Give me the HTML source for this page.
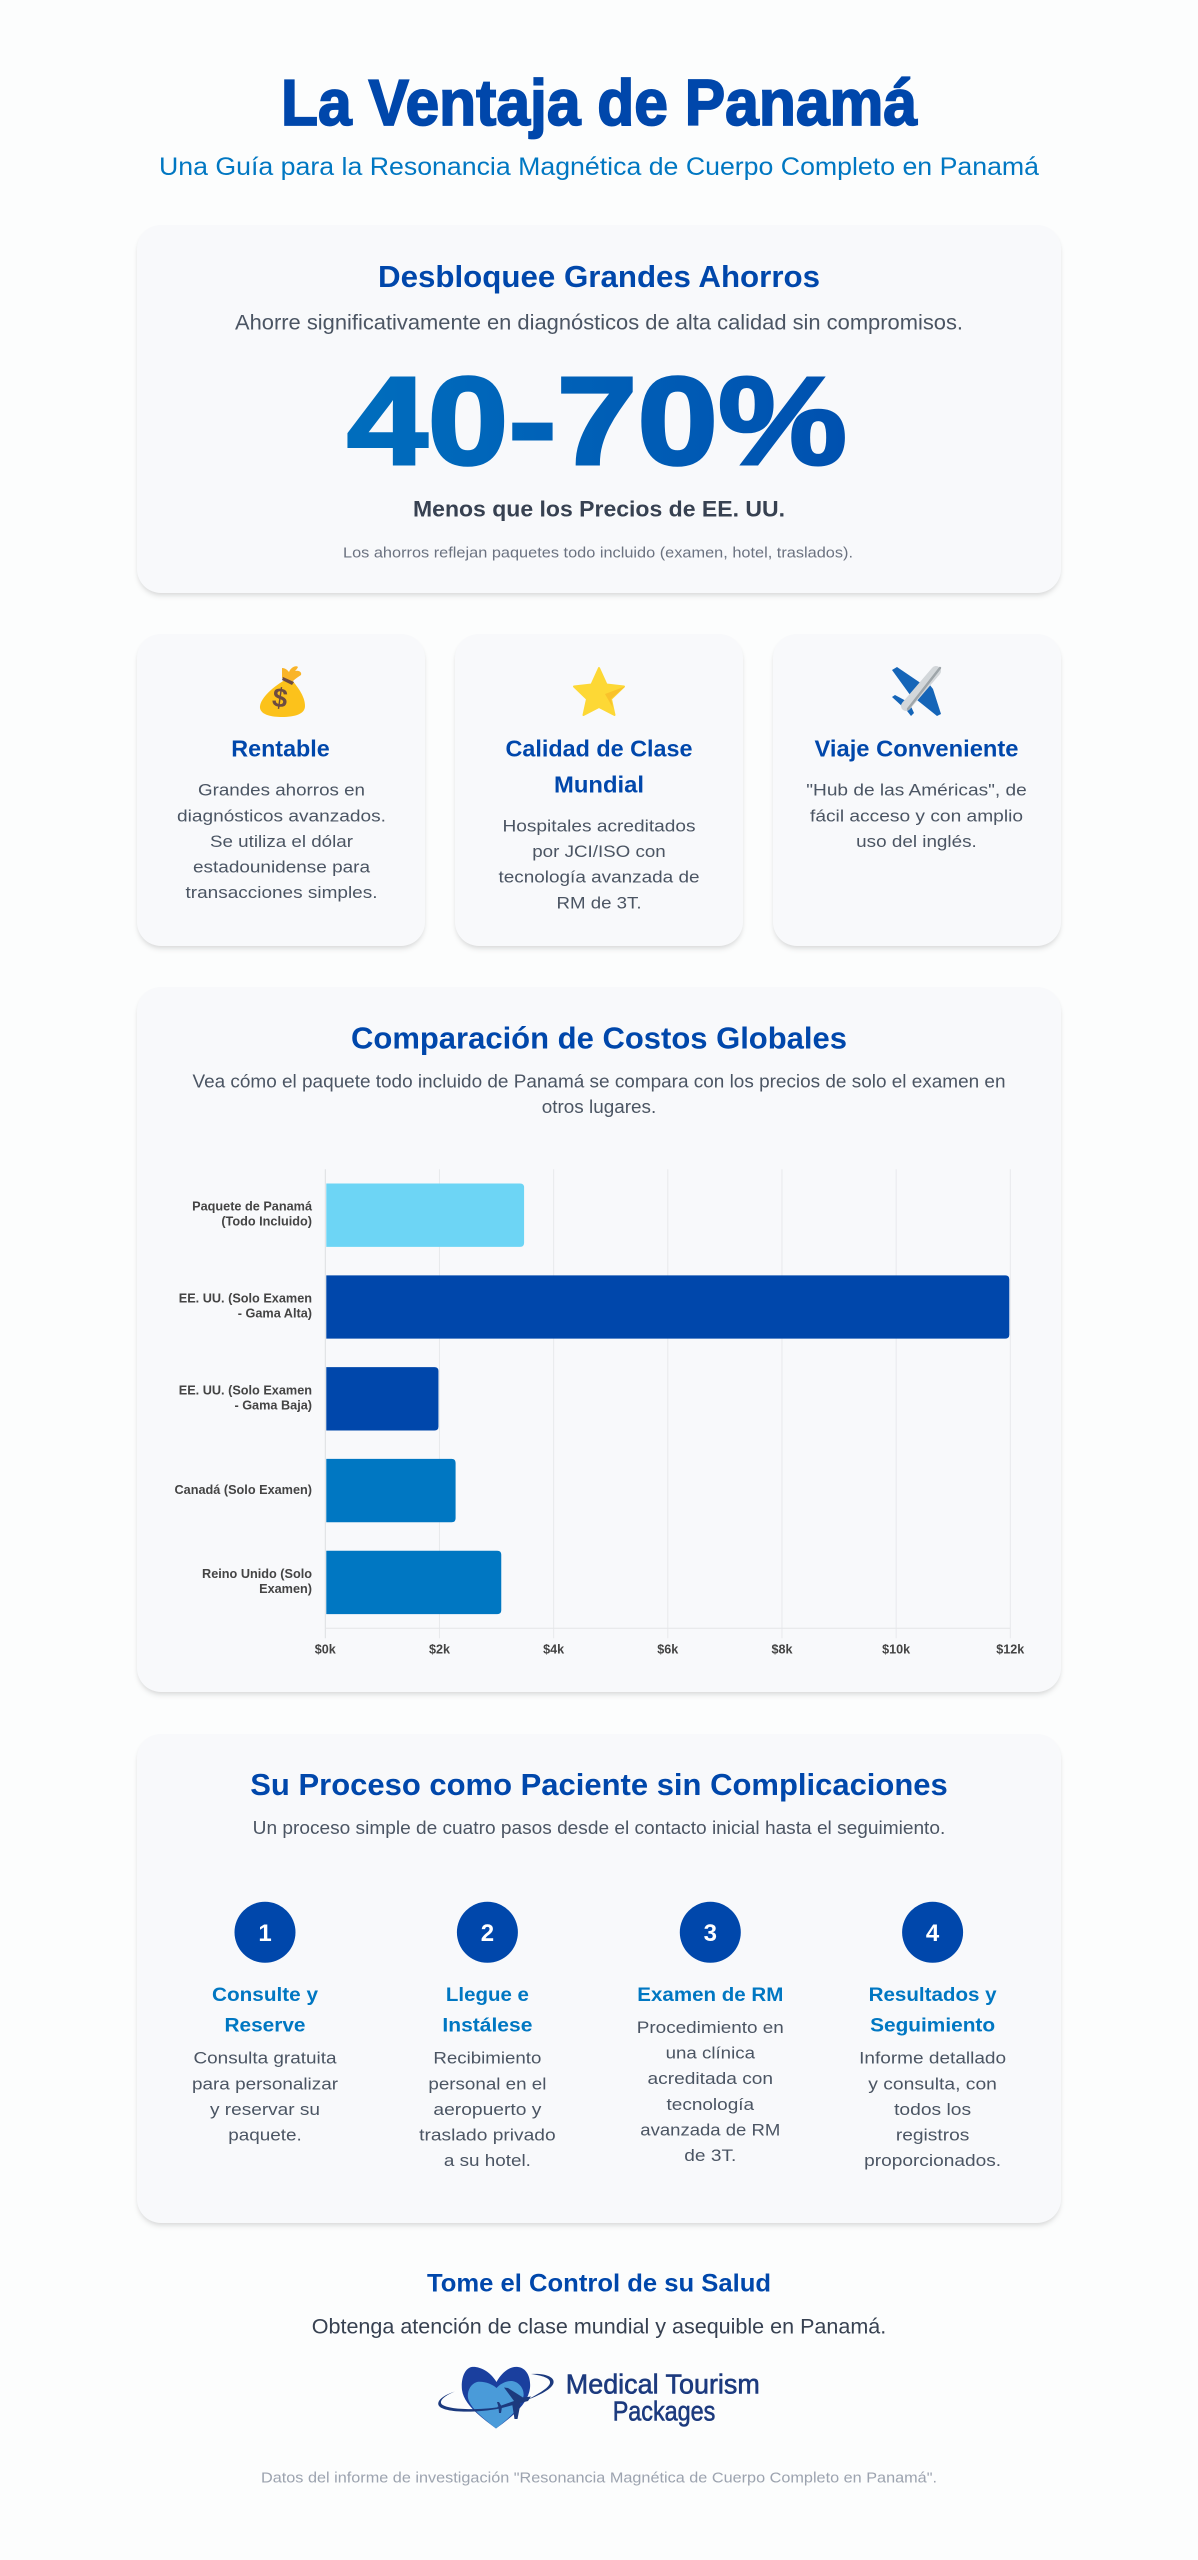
<!DOCTYPE html>
<html lang="es">
<head>
<meta charset="utf-8">
<title>La Ventaja de Panamá</title>
<style>
html,body{margin:0;padding:0;background:#fcfdfd;}
body{position:relative;width:1198px;height:2560px;overflow:hidden;font-family:"Liberation Sans",sans-serif;}
.card{position:absolute;background:#f8f9fb;border-radius:24px;box-shadow:0 4px 6px -1px rgba(0,0,0,.1),0 2px 4px -1px rgba(0,0,0,.06);}
svg#page{position:absolute;left:0;top:0;}
text{font-family:"Liberation Sans",sans-serif;text-anchor:middle;}
.main-title{font-size:65px;font-weight:700;fill:#0047ab;stroke:#0047ab;stroke-width:1.8px;}
.sub-title{font-size:25px;fill:#0077c2;}
.h2{font-size:31px;font-weight:700;fill:#0047ab;}
.lead{font-size:20.8px;fill:#4b5563;}
.lead2{font-size:18.2px;fill:#4b5563;}
.big{font-size:125px;font-weight:700;fill:url(#big-gradient);stroke:url(#big-gradient);stroke-width:3px;}
.strong{font-size:22.5px;font-weight:700;fill:#374151;}
.note{font-size:14.6px;fill:#6b7280;}
.h3{font-size:23px;font-weight:700;fill:#0047ab;}
.p{font-size:16.7px;fill:#4b5563;}
.h4{font-size:19.8px;font-weight:700;fill:#0077c2;}
.num{font-size:24px;font-weight:700;fill:#fff;}
.cta-h{font-size:24.6px;font-weight:700;fill:#0047ab;}
.cta-p{font-size:20.8px;fill:#374151;}
.src{font-size:14.6px;fill:#9ca3af;}
.logo-t{font-size:28px;fill:#1c3a7e;stroke:#1c3a7e;stroke-width:.6px;}
.tick{font-size:12.6px;font-weight:700;fill:#444;}
.cat{font-size:12.7px;font-weight:700;fill:#444;text-anchor:end;}
</style>
</head>
<body>
<div class="card" style="left:137px;top:225px;width:924px;height:368px"></div>
<div class="card" style="left:137px;top:634px;width:288px;height:312px"></div>
<div class="card" style="left:455px;top:634px;width:288px;height:312px"></div>
<div class="card" style="left:773px;top:634px;width:288px;height:312px"></div>
<div class="card" style="left:137px;top:987px;width:924px;height:705px"></div>
<div class="card" style="left:137px;top:1734px;width:924px;height:489px"></div>

<svg id="page" xmlns="http://www.w3.org/2000/svg" width="1198" height="2560" viewBox="0 0 1198 2560">
<defs>
<linearGradient id="big-gradient" gradientUnits="userSpaceOnUse" x1="180" y1="0" x2="1018" y2="0">
<stop offset="0" stop-color="#0077c2"/><stop offset="1" stop-color="#0047ab"/>
</linearGradient>
</defs>

<g>
<text class="main-title" x="599" y="125" textLength="636" lengthAdjust="spacingAndGlyphs">La Ventaja de Panamá</text>
<text class="sub-title" x="599" y="175" textLength="880" lengthAdjust="spacingAndGlyphs">Una Guía para la Resonancia Magnética de Cuerpo Completo en Panamá</text>
</g>

<g>
<text class="h2" x="599" y="287" textLength="442" lengthAdjust="spacingAndGlyphs">Desbloquee Grandes Ahorros</text>
<text class="lead" x="599" y="329.5" textLength="728" lengthAdjust="spacingAndGlyphs">Ahorre significativamente en diagnósticos de alta calidad sin compromisos.</text>
<text class="big" x="597" y="464" textLength="500" lengthAdjust="spacingAndGlyphs">40-70%</text>
<text class="strong" x="599" y="516.5" textLength="372" lengthAdjust="spacingAndGlyphs">Menos que los Precios de EE. UU.</text>
<text class="note" x="598" y="557.5" textLength="510" lengthAdjust="spacingAndGlyphs">Los ahorros reflejan paquetes todo incluido (examen, hotel, traslados).</text>
</g>

<g>
<path d="M285 680 C271 688 259 700 260 708 C261 715 272 717 282 717 C295 717 305 714 305 706 C305 696 297 686 291 679 Z" fill="#fcc21b"/>
<path d="M282 678 L282 668 C286 668 288 671 289 672 C291 667 296 665 298 667 C297 669 296 670 295 671 C299 670 302 672 301 675 C298 677 295 679 293 681 Z" fill="#f9b428"/>
<path d="M283 677 L294 682 L292 685 L282 680 Z" fill="#6d4c41"/>
<text x="280" y="707" font-size="27" font-weight="700" fill="#6d4c41" transform="rotate(8 280 698)">$</text>
</g>

<g>
<path d="M599 668 L606.5 684.5 L624 686.5 L611 699 L614.5 715 L599 707 L583.5 715 L587 699 L574 686.5 L591.5 684.5 Z" fill="#fdd835" stroke="#fdd835" stroke-width="2" stroke-linejoin="round"/>
<path d="M625 686.5 L611 699 L613 708 L605 694 Z" fill="#f9c22b"/>
</g>

<g>
<path d="M892 670 L897 667 L925 686 L913 699 Z" fill="#1565b8"/>
<path d="M926 680 L933 689 L941 714 L937 716 L917 700 Z" fill="#1565b8"/>
<path d="M892 697 L895 695 L908 702 L904 708 Z" fill="#1565b8"/>
<path d="M904 707 L909 702 L914 713 L911 716 Z" fill="#1565b8"/>
<path d="M936 671 L906 706" stroke="#d3d7da" stroke-width="10" stroke-linecap="round" fill="none"/>
<path d="M940 668 L908 709" stroke="#9ea5a9" stroke-width="2.4" stroke-linecap="round" fill="none"/>
</g>

<g>
<text class="h3" x="280.5" y="756.7" textLength="98.5" lengthAdjust="spacingAndGlyphs">Rentable</text>
<text class="p" x="281.5" y="795.7" textLength="167" lengthAdjust="spacingAndGlyphs">Grandes ahorros en</text>
<text class="p" x="281.5" y="821.3" textLength="209" lengthAdjust="spacingAndGlyphs">diagnósticos avanzados.</text>
<text class="p" x="281.5" y="846.9" textLength="143" lengthAdjust="spacingAndGlyphs">Se utiliza el dólar</text>
<text class="p" x="281.5" y="872.5" textLength="177" lengthAdjust="spacingAndGlyphs">estadounidense para</text>
<text class="p" x="281.5" y="898.1" textLength="192" lengthAdjust="spacingAndGlyphs">transacciones simples.</text>
</g>

<g>
<text class="h3" x="599" y="756.7" textLength="187" lengthAdjust="spacingAndGlyphs">Calidad de Clase</text>
<text class="h3" x="599" y="792.7" textLength="90" lengthAdjust="spacingAndGlyphs">Mundial</text>
<text class="p" x="599" y="831.5" textLength="193" lengthAdjust="spacingAndGlyphs">Hospitales acreditados</text>
<text class="p" x="599" y="857.1" textLength="133.5" lengthAdjust="spacingAndGlyphs">por JCI/ISO con</text>
<text class="p" x="599" y="882.7" textLength="201" lengthAdjust="spacingAndGlyphs">tecnología avanzada de</text>
<text class="p" x="599" y="908.3" textLength="85" lengthAdjust="spacingAndGlyphs">RM de 3T.</text>
</g>

<g>
<text class="h3" x="916.5" y="756.7" textLength="204" lengthAdjust="spacingAndGlyphs">Viaje Conveniente</text>
<text class="p" x="916.5" y="795.7" textLength="220.5" lengthAdjust="spacingAndGlyphs">"Hub de las Américas", de</text>
<text class="p" x="916.5" y="821.3" textLength="213" lengthAdjust="spacingAndGlyphs">fácil acceso y con amplio</text>
<text class="p" x="916.5" y="846.9" textLength="120.6" lengthAdjust="spacingAndGlyphs">uso del inglés.</text>
</g>

<g>
<text class="h2" x="599" y="1048.7" textLength="496" lengthAdjust="spacingAndGlyphs">Comparación de Costos Globales</text>
<text class="lead2" x="599" y="1087.3" textLength="813" lengthAdjust="spacingAndGlyphs">Vea cómo el paquete todo incluido de Panamá se compara con los precios de solo el examen en</text>
<text class="lead2" x="599" y="1113" textLength="114.5" lengthAdjust="spacingAndGlyphs">otros lugares.</text>
</g>

<g id="chart"></g>

<g>
<text class="h2" x="599" y="1795" textLength="697.5" lengthAdjust="spacingAndGlyphs">Su Proceso como Paciente sin Complicaciones</text>
<text class="lead2" x="599" y="1834" textLength="692.6" lengthAdjust="spacingAndGlyphs">Un proceso simple de cuatro pasos desde el contacto inicial hasta el seguimiento.</text>
</g>

<g>
<circle cx="265" cy="1932.3" r="30.5" fill="#0047ab"/>
<text class="num" x="265" y="1941">1</text>
<text class="h4" x="265" y="2001" textLength="106" lengthAdjust="spacingAndGlyphs">Consulte y</text>
<text class="h4" x="265" y="2031.7" textLength="81" lengthAdjust="spacingAndGlyphs">Reserve</text>
<text class="p" x="265" y="2063.7" textLength="143" lengthAdjust="spacingAndGlyphs">Consulta gratuita</text>
<text class="p" x="265" y="2089.3" textLength="146" lengthAdjust="spacingAndGlyphs">para personalizar</text>
<text class="p" x="265" y="2114.9" textLength="110" lengthAdjust="spacingAndGlyphs">y reservar su</text>
<text class="p" x="265" y="2140.5" textLength="73.5" lengthAdjust="spacingAndGlyphs">paquete.</text>
</g>

<g>
<circle cx="487.4" cy="1932.3" r="30.5" fill="#0047ab"/>
<text class="num" x="487.4" y="1941">2</text>
<text class="h4" x="487.4" y="2001" textLength="83" lengthAdjust="spacingAndGlyphs">Llegue e</text>
<text class="h4" x="487.4" y="2031.7" textLength="90" lengthAdjust="spacingAndGlyphs">Instálese</text>
<text class="p" x="487.4" y="2063.7" textLength="108" lengthAdjust="spacingAndGlyphs">Recibimiento</text>
<text class="p" x="487.4" y="2089.3" textLength="118" lengthAdjust="spacingAndGlyphs">personal en el</text>
<text class="p" x="487.4" y="2114.9" textLength="108" lengthAdjust="spacingAndGlyphs">aeropuerto y</text>
<text class="p" x="487.4" y="2140.5" textLength="136.5" lengthAdjust="spacingAndGlyphs">traslado privado</text>
<text class="p" x="487.4" y="2166.1" textLength="87" lengthAdjust="spacingAndGlyphs">a su hotel.</text>
</g>

<g>
<circle cx="710.3" cy="1932.3" r="30.5" fill="#0047ab"/>
<text class="num" x="710.3" y="1941">3</text>
<text class="h4" x="710.3" y="2001" textLength="146" lengthAdjust="spacingAndGlyphs">Examen de RM</text>
<text class="p" x="710.3" y="2033" textLength="147" lengthAdjust="spacingAndGlyphs">Procedimiento en</text>
<text class="p" x="710.3" y="2058.6" textLength="89.4" lengthAdjust="spacingAndGlyphs">una clínica</text>
<text class="p" x="710.3" y="2084.2" textLength="125.5" lengthAdjust="spacingAndGlyphs">acreditada con</text>
<text class="p" x="710.3" y="2109.8" textLength="87.6" lengthAdjust="spacingAndGlyphs">tecnología</text>
<text class="p" x="710.3" y="2135.4" textLength="140" lengthAdjust="spacingAndGlyphs">avanzada de RM</text>
<text class="p" x="710.3" y="2161" textLength="52" lengthAdjust="spacingAndGlyphs">de 3T.</text>
</g>

<g>
<circle cx="932.6" cy="1932.3" r="30.5" fill="#0047ab"/>
<text class="num" x="932.6" y="1941">4</text>
<text class="h4" x="932.6" y="2001" textLength="128" lengthAdjust="spacingAndGlyphs">Resultados y</text>
<text class="h4" x="932.6" y="2031.7" textLength="125" lengthAdjust="spacingAndGlyphs">Seguimiento</text>
<text class="p" x="932.6" y="2063.7" textLength="147" lengthAdjust="spacingAndGlyphs">Informe detallado</text>
<text class="p" x="932.6" y="2089.3" textLength="128.6" lengthAdjust="spacingAndGlyphs">y consulta, con</text>
<text class="p" x="932.6" y="2114.9" textLength="77" lengthAdjust="spacingAndGlyphs">todos los</text>
<text class="p" x="932.6" y="2140.5" textLength="73.5" lengthAdjust="spacingAndGlyphs">registros</text>
<text class="p" x="932.6" y="2166.1" textLength="137" lengthAdjust="spacingAndGlyphs">proporcionados.</text>
</g>

<g>
<text class="cta-h" x="599" y="2291.7" textLength="344" lengthAdjust="spacingAndGlyphs">Tome el Control de su Salud</text>
<text class="cta-p" x="599" y="2333.3" textLength="574.5" lengthAdjust="spacingAndGlyphs">Obtenga atención de clase mundial y asequible en Panamá.</text>
<g>
<path d="M496.5 2382 C490 2371 479 2366 471.5 2367 C463 2369 461 2382 462 2390 C464 2405 482 2418 496 2428.5 C510 2418 528 2405 530 2388 C531 2378 527 2368 518 2367 C510 2366 502 2372 496.5 2382 Z" fill="#1a3f9e"/>
<path d="M496.5 2388 C492 2384 484 2381 477 2382 C470 2384 467 2392 468 2398 C470 2408 484 2419 496 2428.5 C508 2419 521 2408 523.5 2396 C524.5 2390 520 2382 512 2381 C506 2380.5 500 2384 496.5 2388 Z" fill="#4a9bd9"/>
<path d="M531 2374 C545 2373 555 2377 553.5 2383 C552 2389 540 2395 527 2400 C538 2394 549 2388 550 2383 C551 2378 542 2375.5 531 2374 Z" fill="#1c3a7e"/>
<path d="M455 2391.5 C444 2395 437 2400 438.5 2405 C441 2412 470 2414 500 2408.5 L500 2407 C472 2411 446 2409 441.5 2404 C439 2400 446 2395 455 2391.5 Z" fill="#1c3a7e"/>
<path d="M531 2396.5 L528 2401 L500 2408.5 L497 2407 L514 2401 L504 2387.5 L508 2388 L523 2397.5 Z M512 2403 L521 2401 L517.5 2419 L514.5 2419 Z M497 2402 L499 2402 L502 2407 L501 2413 L499 2413 L498.5 2407 Z" fill="#1c3a7e"/>
<text class="logo-t" x="662.8" y="2393.3" textLength="194" lengthAdjust="spacingAndGlyphs">Medical Tourism</text>
<text class="logo-t" x="664" y="2420.7" textLength="102.6" lengthAdjust="spacingAndGlyphs">Packages</text>
</g>
<text class="src" x="599" y="2482.7" textLength="676" lengthAdjust="spacingAndGlyphs">Datos del informe de investigación "Resonancia Magnética de Cuerpo Completo en Panamá".</text>
</g>
</svg>

<script>
const categoryLabels = [
  ["Paquete de Panamá", "(Todo Incluido)"],
  ["EE. UU. (Solo Examen", "- Gama Alta)"],
  ["EE. UU. (Solo Examen", "- Gama Baja)"],
  ["Canadá (Solo Examen)"],
  ["Reino Unido (Solo", "Examen)"]
];
const costValues = [3500, 12000, 2000, 2300, 3100];
const seriesGroups = ["panama", "us", "us", "other", "other"];
const tickValues = [0, 2000, 4000, 6000, 8000, 10000, 12000];
const tickLabels = ["$0k", "$2k", "$4k", "$6k", "$8k", "$10k", "$12k"];

const SVG_NS = "http://www.w3.org/2000/svg";
const chart = document.getElementById("chart");
const plot = { left: 325.3, right: 1010.3, top: 1169.3, bottom: 1628.3 };
const groupColor = { panama: "#6dd5f5", us: "#0047ab", other: "#0077c2" };
const axisMax = tickValues[tickValues.length - 1];

function xScale(v) {
  return plot.left + (v / axisMax) * (plot.right - plot.left);
}
function bandCenter(i) {
  const band = (plot.bottom - plot.top) / costValues.length;
  return plot.top + band * (i + 0.5);
}
function make(tag, attrs) {
  const el = document.createElementNS(SVG_NS, tag);
  Object.keys(attrs).forEach(function (k) { el.setAttribute(k, attrs[k]); });
  chart.appendChild(el);
  return el;
}

tickValues.forEach(function (v, i) {
  const x = xScale(v);
  const line = make("line", { x1: x, x2: x, y1: plot.top, y2: plot.bottom + 10, stroke: i === 0 ? "#dcdee1" : "#e8e9ec", "stroke-width": 1 });
  
  
  const label = make("text", { class: "tick", x: x, y: 1653.3 });
  
  
  label.textContent = tickLabels[i];
});

const baseLine = make("line", { x1: plot.left, x2: plot.right, y1: plot.bottom, y2: plot.bottom, stroke: "#e4e5e8", "stroke-width": 1 });



costValues.forEach(function (v, i) {
  const band = (plot.bottom - plot.top) / costValues.length;
  const h = band * 0.69;
  const cy = bandCenter(i);
  const y0 = cy - h / 2;
  const x0 = plot.left + 1;
  const x1 = xScale(v) - 1;
  const r = 4;
  const d = "M" + x0 + " " + y0 + " H" + (x1 - r) + " Q" + x1 + " " + y0 + " " + x1 + " " + (y0 + r) +
    " V" + (y0 + h - r) + " Q" + x1 + " " + (y0 + h) + " " + (x1 - r) + " " + (y0 + h) + " H" + x0 + " Z";
  const bar = make("path", { d: d, fill: groupColor[seriesGroups[i]] });
  
  

  const lines = categoryLabels[i];
  lines.forEach(function (t, j) {
    const offset = lines.length === 1 ? 3.5 : (j === 0 ? -4.5 : 10.5);
    const label = make("text", { class: "cat", x: 312, y: cy + offset });
    
    
    label.textContent = t;
  });
});
</script>
</body>
</html>
